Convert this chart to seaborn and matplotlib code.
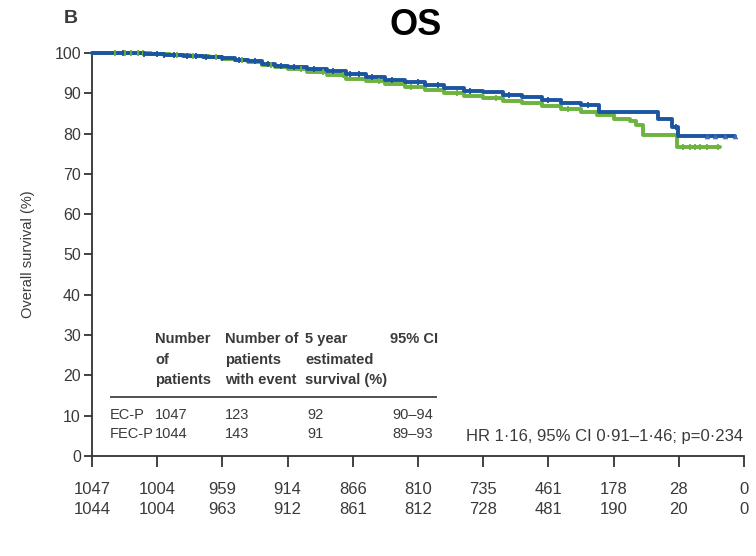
import numpy as np
import matplotlib
matplotlib.use("Agg")
import matplotlib.pyplot as plt
import seaborn as sns

# Kaplan-Meier steps (years, % surviving)
t_ecp = [0, 0.8, 1.1, 1.4, 1.7, 2.0, 2.2, 2.4, 2.6, 2.8, 3.0, 3.3, 3.6, 3.9, 4.2, 4.5,
         4.8, 5.1, 5.4, 5.7, 6.0, 6.3, 6.6, 6.9, 7.2, 7.5, 7.78, 8.68, 8.9, 8.99, 9.86]
s_ecp = [100, 99.8, 99.5, 99.3, 99.0, 98.7, 98.3, 97.9, 97.3, 96.8, 96.4, 95.9, 95.4, 94.8, 94.0, 93.4,
         92.7, 92.0, 91.3, 90.6, 90.2, 89.6, 89.0, 88.4, 87.6, 87.0, 85.4, 83.6, 81.7, 79.5, 79.5]
t_fecp = [0, 0.9, 1.2, 1.5, 1.8, 2.0, 2.2, 2.4, 2.6, 2.8, 3.0, 3.3, 3.6, 3.9, 4.2, 4.5, 4.8,
          5.1, 5.4, 5.7, 6.0, 6.3, 6.6, 6.9, 7.2, 7.5, 7.75, 8.0, 8.25, 8.35, 8.45, 8.97, 9.63]
s_fecp = [100, 99.8, 99.5, 99.2, 98.9, 98.6, 98.2, 97.7, 97.1, 96.5, 96.0, 95.3, 94.4, 93.6, 93.0, 92.3, 91.5,
          90.8, 90.1, 89.3, 88.7, 88.1, 87.5, 86.9, 86.0, 85.3, 84.5, 83.6, 83.0, 82.0, 79.7, 76.6, 76.6]

# censoring times
cens_ecp = [0.48, 0.8, 1.0, 1.1, 1.25, 1.45, 1.6, 1.75, 2.0, 2.25, 2.5, 2.7, 2.9, 3.1, 3.4,
            3.7, 3.95, 4.1, 4.3, 4.6, 5.0, 5.3, 5.8, 6.4, 7.0, 7.6, 8.95]
cens_ecp_tail = [9.43, 9.56, 9.71, 9.86]
cens_fecp = [0.35, 0.5, 0.6, 0.7, 0.78, 1.3, 1.55, 1.9, 2.3, 2.75, 3.2, 3.55, 3.85, 4.4,
             4.9, 5.6, 6.2, 7.3, 9.06, 9.17, 9.25, 9.33, 9.44, 9.6]

years = list(range(11))
risk_ecp = [1047, 1004, 959, 914, 866, 810, 735, 461, 178, 28, 0]
risk_fecp = [1044, 1004, 963, 912, 861, 812, 728, 481, 190, 20, 0]

arms = ["EC-P", "FEC-P"]
n_patients = [1047, 1044]
n_events = [123, 143]
surv5 = [92, 91]
ci5 = ["90–94", "89–93"]
hr_text = "HR 1·16, 95% CI 0·91–1·46; p=0·234"

BLUE = "#1b55a0"
GREEN = "#6cb33f"
TXT = "#3a3a3a"

sns.set_style("ticks")
plt.rcParams["font.family"] = ["Liberation Sans Narrow", "Liberation Sans", "DejaVu Sans"]

fig = plt.figure(figsize=(7.56, 5.56), dpi=100)
ax = fig.add_axes([0.1217, 0.18, 0.8624, 0.7248])


def at(ts, ss, q):
    idx = np.searchsorted(ts, q, side="right") - 1
    return np.asarray(ss)[idx]


sns.lineplot(x=t_fecp, y=s_fecp, drawstyle="steps-post", color=GREEN, lw=2.8,
             sort=False, ax=ax, clip_on=False, zorder=3)
sns.lineplot(x=t_ecp, y=s_ecp, drawstyle="steps-post", color=BLUE, lw=2.8,
             sort=False, ax=ax, clip_on=False, zorder=4)
sns.scatterplot(x=cens_fecp, y=at(t_fecp, s_fecp, cens_fecp), marker="|", s=22,
                color=GREEN, linewidth=1.3, ax=ax, clip_on=False, zorder=5)
sns.scatterplot(x=cens_ecp, y=at(t_ecp, s_ecp, cens_ecp), marker="|", s=22,
                color=BLUE, linewidth=1.3, ax=ax, clip_on=False, zorder=6)
sns.scatterplot(x=cens_ecp_tail, y=at(t_ecp, s_ecp, cens_ecp_tail), marker="^", s=16,
                color="#3f6fb5", linewidth=0, ax=ax, clip_on=False, zorder=6)

ax.set_xlim(0, 10)
ax.set_ylim(0, 100)
ax.set_xticks(years)
ax.set_xticklabels([])
ax.set_yticks(range(0, 101, 10))
ax.set_xlabel("")
ax.set_ylabel("Overall survival (%)", fontsize=10.5, color=TXT, labelpad=14)
ax.tick_params(axis="y", length=6, width=1.3, color="#333333", labelsize=11.5,
               labelcolor=TXT, pad=2)
ax.tick_params(axis="x", length=8, width=1.3, color="#333333")
sns.despine(ax=ax)
for sp in ["left", "bottom"]:
    ax.spines[sp].set_linewidth(1.3)
    ax.spines[sp].set_color("#333333")

# inset table
hdr_x = [0.966, 2.04, 3.27, 4.57]
headers = [["Number", "of", "patients"],
           ["Number of", "patients", "with event"],
           ["5 year", "estimated", "survival (%)"],
           ["95% CI", "", ""]]
hdr_y = [29.0, 23.8, 18.9]
for hx, lines in zip(hdr_x, headers):
    for hy, ln in zip(hdr_y, lines):
        ax.text(hx, hy, ln, fontsize=10.5, fontweight="bold", color=TXT,
                ha="left", va="center")
ax.hlines(14.6, 0.276, 5.29, color="#333333", lw=1.2)
row_y = [10.2, 5.5]
for ry, a, n, e, s5, ci in zip(row_y, arms, n_patients, n_events, surv5, ci5):
    ax.text(0.276, ry, a, fontsize=10.5, color=TXT, va="center")
    ax.text(hdr_x[0], ry, str(n), fontsize=10.5, color=TXT, va="center")
    ax.text(hdr_x[1], ry, str(e), fontsize=10.5, color=TXT, va="center")
    ax.text(hdr_x[2] + 0.03, ry, str(s5), fontsize=10.5, color=TXT, va="center")
    ax.text(hdr_x[3] + 0.03, ry, ci, fontsize=10.5, color=TXT, va="center")

ax.text(9.98, 4.7, hr_text, fontsize=12, color=TXT, ha="right", va="center")

# numbers at risk
for x, a, b in zip(years, risk_ecp, risk_fecp):
    ax.text(x, -0.084, str(a), transform=ax.get_xaxis_transform(), ha="center",
            va="center", fontsize=12, color=TXT)
    ax.text(x, -0.134, str(b), transform=ax.get_xaxis_transform(), ha="center",
            va="center", fontsize=12, color=TXT)

fig.text(0.55, 0.955, "OS", fontsize=26, fontweight="bold", ha="center",
         va="center", color="black")
fig.text(0.093, 0.967, "B", fontsize=14, fontweight="bold", ha="center",
         va="center", color=TXT)

fig.savefig("out.png", dpi=100)
